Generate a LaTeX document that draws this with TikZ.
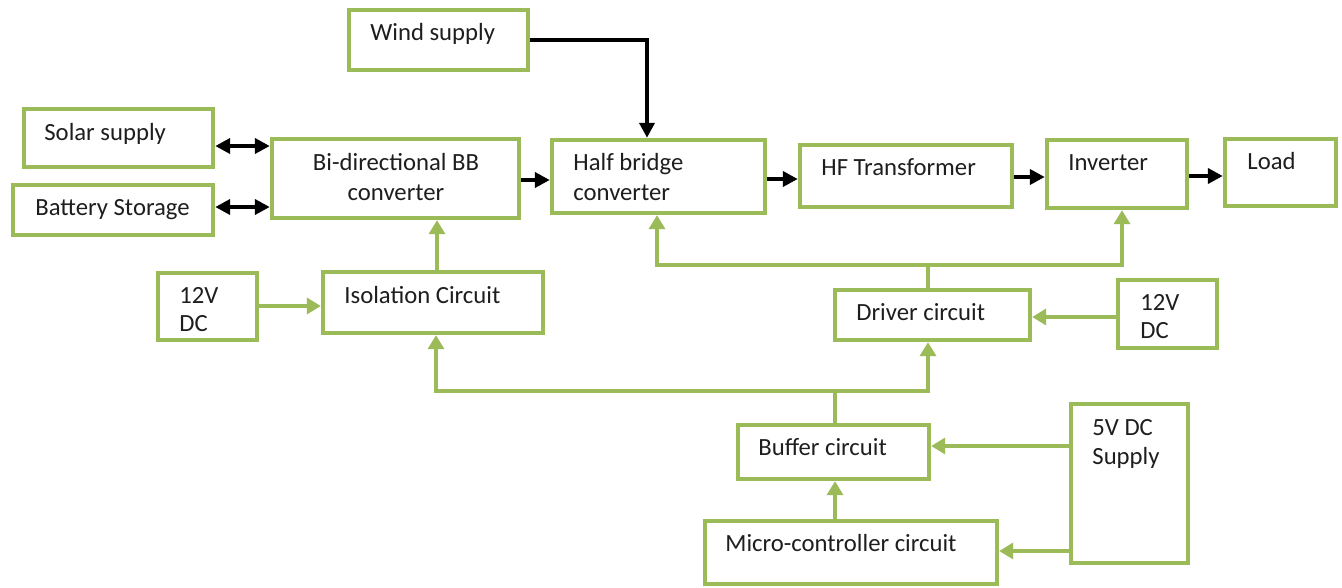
\documentclass[tikz,border=0pt]{standalone}
\usepackage{fontspec}
\setmainfont{Carlito}
\usetikzlibrary{arrows.meta}
\definecolor{boxgreen}{HTML}{9BBB59}
\definecolor{txtcol}{HTML}{1E1E1E}
\begin{document}
\begin{tikzpicture}[x=0.5pt,y=-0.5pt,
  box/.style 2 args={draw=boxgreen,line width=2.2pt,inner sep=0pt,minimum width=#1*0.5pt,minimum height=#2*0.5pt},
  lbl/.style={font=\fontsize{12.35}{14}\selectfont,text=txtcol,inner sep=0pt,anchor=base west},
  clbl/.style={font=\fontsize{12.35}{14}\selectfont,text=txtcol,inner sep=0pt,anchor=base},
  garrow/.style={draw=boxgreen,line width=2.2pt,-{Triangle[length=7pt,width=8pt]}},
  barrow/.style={draw=black,line width=2.2pt,-{Triangle[length=7.5pt,width=7.5pt]}},
  bdbl/.style={draw=black,line width=2.2pt,{Triangle[length=7.5pt,width=7.5pt]}-{Triangle[length=7.5pt,width=7.5pt]}}]
\fill[white] (0,0) rectangle (1342,588);
\useasboundingbox (0,0) rectangle (1342,588);
% boxes
\node[box={179}{60}] (wind) at (438.5,40) {};
\node[box={189}{58}] (solar) at (118.5,138) {};
\node[box={200}{50}] (battery) at (113,210) {};
\node[box={247}{79}] (bb) at (395.5,178.5) {};
\node[box={213}{73}] (half) at (658.5,176.5) {};
\node[box={212}{62}] (hf) at (906,176) {};
\node[box={140}{68}] (inv) at (1117,174) {};
\node[box={111}{67}] (load) at (1280.5,172.5) {};
\node[box={99}{67}] (dcL) at (207.5,306.5) {};
\node[box={220}{61}] (iso) at (433,302.5) {};
\node[box={195}{50}] (drv) at (932.5,315) {};
\node[box={99}{68}] (dcR) at (1167.5,314) {};
\node[box={191}{54}] (buf) at (833.5,452) {};
\node[box={117}{159}] (five) at (1129.5,483.5) {};
\node[box={292}{63}] (mcu) at (851,552.5) {};
% texts
\node[lbl] (twind) at (370,41) {Wind supply};
\node[lbl] (tsolar) at (44,141) {Solar supply};
\node[lbl] (tbat) at (35,215) {Battery Storage};
\node[clbl] (tbb1) at (396,171) {Bi-directional BB};
\node[clbl] (tbb2) at (396,200) {converter};
\node[lbl] (thb1) at (573,171) {Half bridge};
\node[lbl] (thb2) at (573,200) {converter};
\node[lbl] (thf) at (821,176) {HF Transformer};
\node[lbl] (tinv) at (1068,171) {Inverter};
\node[lbl] (tload) at (1247,170) {Load};
\node[lbl] (tdcl1) at (179,303) {12V};
\node[lbl] (tdcl2) at (179,331) {DC};
\node[lbl] (tiso) at (344,303) {Isolation Circuit};
\node[lbl] (tdrv) at (856,320) {Driver circuit};
\node[lbl] (tdcr1) at (1140,310) {12V};
\node[lbl] (tdcr2) at (1140,338) {DC};
\node[lbl] (tbuf) at (758,455) {Buffer circuit};
\node[lbl] (tfive1) at (1092,435) {5V DC};
\node[lbl] (tfive2) at (1092,464) {Supply};
\node[lbl] (tmcu) at (725,551) {Micro-controller circuit};
% helper coordinates
\coordinate (xw) at (647,40);
\coordinate (yS) at (0,146);
\coordinate (yB) at (0,207);
\coordinate (yBB) at (0,180);
\coordinate (yH) at (0,179);
\coordinate (yT) at (0,177);
\coordinate (yI) at (0,176);
\coordinate (fb1) at (0,265);
\coordinate (fb2) at (0,391);
\coordinate (xhb) at (657,0);
\coordinate (xinv) at (1122,0);
\coordinate (xdrv) at (928,0);
\coordinate (xbuf) at (835,0);
\coordinate (xiso) at (436,0);
\coordinate (xbb) at (437,0);
\coordinate (r306) at (0,306);
\coordinate (r317) at (0,317);
\coordinate (r446) at (0,446);
\coordinate (r551) at (0,551);
% black power flow
\draw[barrow] (wind.east) -| (xw |- half.north);
\draw[bdbl] (solar.east |- yS) -- (bb.west |- yS);
\draw[bdbl] (battery.east |- yB) -- (bb.west |- yB);
\draw[barrow] (bb.east |- yBB) -- (half.west |- yBB);
\draw[barrow] (half.east |- yH) -- (hf.west |- yH);
\draw[barrow] (hf.east |- yT) -- (inv.west |- yT);
\draw[barrow] (inv.east |- yI) -- (load.west |- yI);
% green control flow
\draw[garrow] (xbb |- iso.north) -- (xbb |- bb.south);
\draw[garrow] (dcL.east |- r306) -- (iso.west |- r306);
\draw[garrow] (xdrv |- drv.north) -- (xdrv |- fb1) -| (xhb |- half.south);
\draw[garrow] (xdrv |- fb1) -| (xinv |- inv.south);
\draw[garrow] (xbuf |- buf.north) -- (xbuf |- fb2) -| (xiso |- iso.south);
\draw[garrow] (xbuf |- fb2) -| (xdrv |- drv.south);
\draw[garrow] (xbuf |- mcu.north) -- (xbuf |- buf.south);
\draw[garrow] (dcR.west |- r317) -- (drv.east |- r317);
\draw[garrow] (five.west |- r446) -- (buf.east |- r446);
\draw[garrow] (five.west |- r551) -- (mcu.east |- r551);
\end{tikzpicture}
\end{document}
